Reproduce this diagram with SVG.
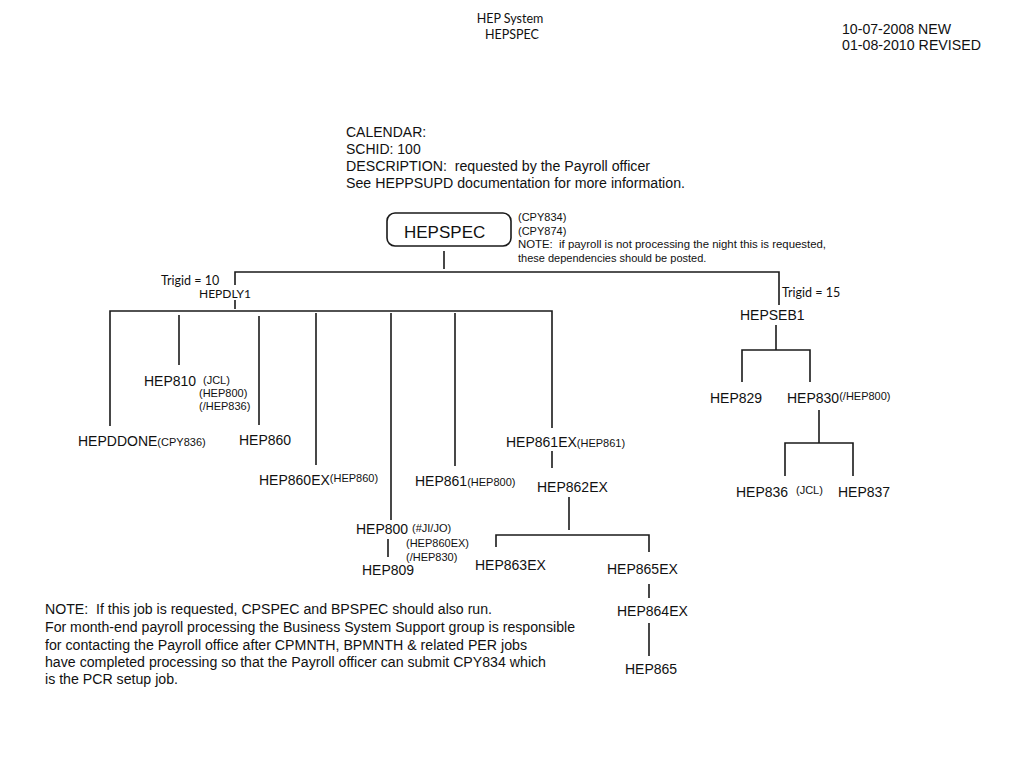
<svg xmlns="http://www.w3.org/2000/svg" width="1024" height="768" viewBox="0 0 1024 768">
<style>
text{font-family:"Liberation Sans",Arial,sans-serif;fill:#111;white-space:pre}
.n{font-size:14px}
.s{font-size:11px}
.c{font-family:Lato,"Open Sans",sans-serif;font-size:12.5px}
.t{font-family:Lato,"Open Sans",sans-serif;font-size:12.5px}
.l{stroke:#1a1a1a;stroke-width:1.6;fill:none}
</style>
<rect width="1024" height="768" fill="#fff"/>
<g id="title">
<text class="t" x="510" y="23" text-anchor="middle">HEP System</text>
<text class="t" x="512" y="39" text-anchor="middle">HEPSPEC</text>
</g>
<g id="dates">
<text class="n" x="842" y="34" textLength="109" lengthAdjust="spacingAndGlyphs">10-07-2008 NEW</text>
<text class="n" x="842" y="50" textLength="139" lengthAdjust="spacingAndGlyphs">01-08-2010 REVISED</text>
</g>
<g id="calendar">
<text class="n" x="346" y="137">CALENDAR:</text>
<text class="n" x="346" y="154">SCHID: 100</text>
<text class="n" x="346" y="171" textLength="304" lengthAdjust="spacingAndGlyphs">DESCRIPTION:  requested by the Payroll officer</text>
<text class="n" x="346" y="188" textLength="339" lengthAdjust="spacingAndGlyphs">See HEPPSUPD documentation for more information.</text>
</g>
<g id="connectors">
<path class="l" d="M444 251V269"/>
<path class="l" d="M235 285V272H779V305"/>
<path class="l" d="M235 300V309"/>
<path class="l" d="M110 426V311H552V428"/>
<path class="l" d="M179 315V365"/>
<path class="l" d="M259 316V425"/>
<path class="l" d="M316 313V465"/>
<path class="l" d="M391 313V520"/>
<path class="l" d="M455 313V466"/>
<path class="l" d="M552 451V468"/>
<path class="l" d="M569 497V530"/>
<path class="l" d="M496 547V535H649V552"/>
<path class="l" d="M649 584V598"/>
<path class="l" d="M649 623V656"/>
<path class="l" d="M388 539V557"/>
<path class="l" d="M776 325V350"/>
<path class="l" d="M742 382V350H810V382"/>
<path class="l" d="M819 410V443"/>
<path class="l" d="M785 476V443H853V476"/>
</g>
<g id="HEPSPEC">
<rect x="387" y="213" width="124" height="33" rx="8" fill="#fff" stroke="#1a1a1a" stroke-width="1.6"/>
<text x="404" y="238" style="font-size:17px">HEPSPEC</text>
<text class="s" x="518" y="221">(CPY834)</text>
<text class="s" x="518" y="235">(CPY874)</text>
<text class="s" x="518" y="248" textLength="308" lengthAdjust="spacingAndGlyphs">NOTE:  if payroll is not processing the night this is requested,</text>
<text class="s" x="518" y="262">these dependencies should be posted.</text>
</g>
<g id="HEPDLY1">
<text class="c" x="161" y="285">Trigid = 10</text>
<text class="c" x="199" y="298" style="font-size:12px">HEPDLY1</text>
</g>
<g id="HEPDDONE"><text class="n" x="78" y="446">HEPDDONE<tspan class="s">(CPY836)</tspan></text></g>
<g id="HEP810">
<text class="n" x="144" y="386">HEP810</text>
<text class="s" x="203" y="384">(JCL)</text>
<text class="s" x="199" y="397">(HEP800)</text>
<text class="s" x="199" y="410">(/HEP836)</text>
</g>
<g id="HEP860"><text class="n" x="239" y="445">HEP860</text></g>
<g id="HEP860EX"><text class="n" x="259" y="485">HEP860EX<tspan class="s" dy="-3">(HEP860)</tspan></text></g>
<g id="HEP861"><text class="n" x="415" y="486">HEP861<tspan class="s">(HEP800)</tspan></text></g>
<g id="HEP861EX"><text class="n" x="506" y="447">HEP861EX<tspan class="s">(HEP861)</tspan></text></g>
<g id="HEP862EX"><text class="n" x="537" y="492">HEP862EX</text></g>
<g id="HEP863EX"><text class="n" x="475" y="570">HEP863EX</text></g>
<g id="HEP865EX"><text class="n" x="607" y="574">HEP865EX</text></g>
<g id="HEP864EX"><text class="n" x="617" y="616">HEP864EX</text></g>
<g id="HEP865"><text class="n" x="625" y="674">HEP865</text></g>
<g id="HEP800">
<text class="n" x="356" y="534">HEP800</text>
<text class="s" x="412" y="532">(#JI/JO)</text>
<text class="s" x="406" y="547">(HEP860EX)</text>
<text class="s" x="406" y="561">(/HEP830)</text>
</g>
<g id="HEP809"><text class="n" x="362" y="575">HEP809</text></g>
<g id="HEPSEB1">
<text class="c" x="782" y="297">Trigid = 15</text>
<text class="n" x="740" y="320">HEPSEB1</text>
</g>
<g id="HEP829"><text class="n" x="710" y="403">HEP829</text></g>
<g id="HEP830"><text class="n" x="787" y="403">HEP830<tspan class="s" dy="-3">(/HEP800)</tspan></text></g>
<g id="HEP836"><text class="n" x="736" y="497">HEP836</text><text class="s" x="796" y="494">(JCL)</text></g>
<g id="HEP837"><text class="n" x="838" y="497">HEP837</text></g>
<g id="note">
<text class="n" x="45" y="614" textLength="447" lengthAdjust="spacingAndGlyphs">NOTE:  If this job is requested, CPSPEC and BPSPEC should also run.</text>
<text class="n" x="45" y="632" textLength="530" lengthAdjust="spacingAndGlyphs">For month-end payroll processing the Business System Support group is responsible</text>
<text class="n" x="45" y="650" textLength="482" lengthAdjust="spacingAndGlyphs">for contacting the Payroll office after CPMNTH, BPMNTH &amp; related PER jobs</text>
<text class="n" x="45" y="667" textLength="501" lengthAdjust="spacingAndGlyphs">have completed processing so that the Payroll officer can submit CPY834 which</text>
<text class="n" x="45" y="684" textLength="133" lengthAdjust="spacingAndGlyphs">is the PCR setup job.</text>
</g>
</svg>
